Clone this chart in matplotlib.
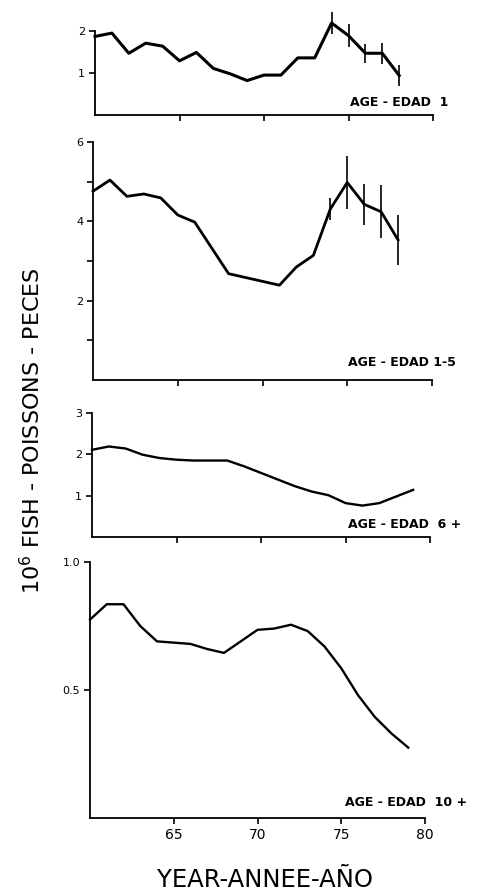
import matplotlib
matplotlib.use("Agg")
import matplotlib.pyplot as plt

# ---- data ----
years_1 = [60, 61, 62, 63, 64, 65, 66, 67, 68, 69, 70, 71, 72, 73, 74, 75, 76, 77, 78]
age_1 = [1.87, 1.95, 1.47, 1.71, 1.64, 1.29, 1.49, 1.11, 0.98, 0.82, 0.95, 0.95, 1.36, 1.36, 2.19, 1.89, 1.47, 1.47, 0.94]
err_years_1 = [74, 75, 76, 77, 78]
err_1 = [0.27, 0.28, 0.22, 0.25, 0.25]

years_15 = [60, 61, 62, 63, 64, 65, 66, 68, 71, 72, 73, 74, 75, 76, 77, 78]
age_15 = [4.76, 5.04, 4.63, 4.69, 4.59, 4.16, 3.98, 2.68, 2.39, 2.85, 3.14, 4.31, 4.98, 4.43, 4.24, 3.53]
err_years_15 = [74, 75, 76, 77, 78]
err_15 = [0.27, 0.67, 0.52, 0.67, 0.63]

years_6 = [60, 61, 62, 63, 64, 65, 66, 67, 68, 69, 70, 71, 72, 73, 74, 75, 76, 77, 78, 79]
age_6 = [2.11, 2.19, 2.14, 1.99, 1.91, 1.87, 1.85, 1.85, 1.85, 1.71, 1.55, 1.39, 1.23, 1.10, 1.01, 0.82, 0.76, 0.82, 0.98, 1.14]

years_10 = [60, 61, 62, 63, 64, 65, 66, 67, 68, 69, 70, 71, 72, 73, 74, 75, 76, 77, 78, 79]
age_10 = [0.775, 0.835, 0.835, 0.75, 0.69, 0.685, 0.68, 0.66, 0.645, 0.69, 0.735, 0.74, 0.755, 0.73, 0.67, 0.585, 0.48, 0.395, 0.33, 0.275]

x_ticks = [65, 70, 75, 80]
x_ticklabels = ["65", "70", "75", "80"]

W, H = 483, 894
fig = plt.figure(figsize=(W / 100, H / 100), dpi=100)

def make_ax(l, r, t, b):
    return fig.add_axes([l / W, 1 - b / H, (r - l) / W, (b - t) / H])

def fx(x):
    return x / W

def fy(y):
    return 1 - y / H

def style(ax, ylim, yticks, ylabels):
    ax.set_xlim(60, 80)
    ax.set_ylim(*ylim)
    for s in ("top", "right"):
        ax.spines[s].set_visible(False)
    for s in ("left", "bottom"):
        ax.spines[s].set_linewidth(1.3)
    ax.set_xticks(x_ticks)
    ax.set_yticks(yticks)
    ax.set_yticklabels(ylabels)
    ax.tick_params(axis="both", direction="out", length=4, width=1.2, labelsize=8, pad=3)
    ax.patch.set_alpha(0)

def err_bars(ax, years, values, err_years, errs):
    centers = [values[years.index(y)] for y in err_years]
    lo = [c - e for c, e in zip(centers, errs)]
    hi = [c + e for c, e in zip(centers, errs)]
    ax.vlines(err_years, lo, hi, color="black", lw=1.2, clip_on=False)

txt_kw = dict(fontsize=9, fontweight="bold", ha="left", va="center")

# panel 1
ax1 = make_ax(95, 433, 31, 115)
ax1.plot(years_1, age_1, color="black", lw=2.2, clip_on=False)
err_bars(ax1, years_1, age_1, err_years_1, err_1)
style(ax1, (0, 2), [1, 2], ["1", "2"])
ax1.set_xticklabels([])
fig.text(fx(350), fy(102), "AGE - EDAD  1", **txt_kw)

# panel 2
ax2 = make_ax(93, 432, 142, 380)
ax2.plot(years_15, age_15, color="black", lw=2.0, clip_on=False)
err_bars(ax2, years_15, age_15, err_years_15, err_15)
style(ax2, (0, 6), [1, 2, 3, 4, 5, 6], ["", "2", "", "4", "", "6"])
ax2.set_xticklabels([])
fig.text(fx(348), fy(362), "AGE - EDAD 1-5", **txt_kw)

# panel 3
ax3 = make_ax(92, 430, 413, 537)
ax3.plot(years_6, age_6, color="black", lw=1.7, clip_on=False)
style(ax3, (0, 3), [1, 2, 3], ["1", "2", "3"])
ax3.set_xticklabels([])
fig.text(fx(348), fy(525), "AGE - EDAD  6 +", **txt_kw)

# panel 4
ax4 = make_ax(90, 425, 562, 818)
ax4.plot(years_10, age_10, color="black", lw=1.7, clip_on=False)
style(ax4, (0, 1.0), [0.5, 1.0], ["0.5", "1.0"])
ax4.set_xticklabels(x_ticklabels, fontsize=10)
fig.text(fx(345), fy(802), "AGE - EDAD  10 +", **txt_kw)

fig.text(fx(32), fy(431), "10$^{6}$ FISH - POISSONS - PECES", rotation=90,
         ha="center", va="center", fontsize=16)
fig.text(fx(265), fy(880), "YEAR-ANNEE-AÑO", ha="center", va="center", fontsize=17.5)

fig.savefig("out.png", dpi=100)
